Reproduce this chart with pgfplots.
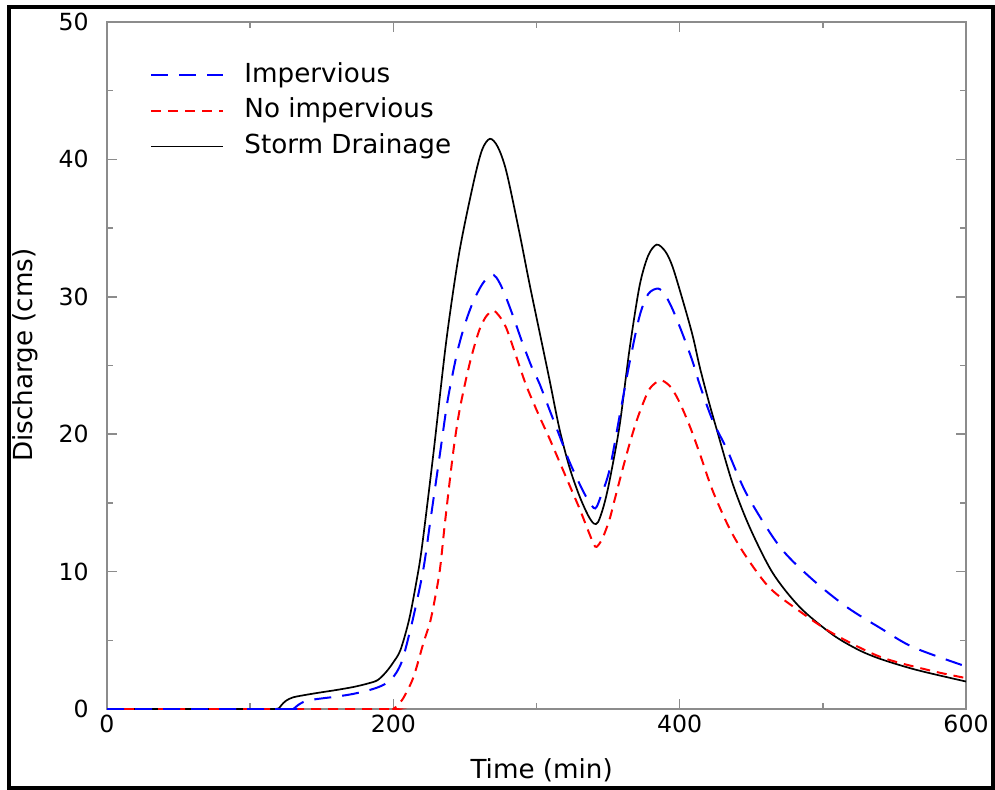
\documentclass[border=0pt]{standalone}
\usepackage{pgfplots}
\pgfplotsset{compat=1.18}
\usepackage{fontspec}
\setmainfont{DejaVu Sans}

\begin{document}
\begin{tikzpicture}
\begin{axis}[
    name=ax,
    scale only axis,
    width=429.5pt, height=343.5pt,
    xmin=0, xmax=600, ymin=0, ymax=50,
    xtick={0,200,400,600}, minor xtick={100,300,500},
    ytick={0,10,...,50}, minor ytick={5,15,...,45},
    tick align=inside,
    major tick length=5pt, minor tick length=3pt,
    axis line style={black!45, line width=0.8pt},
    every major tick/.append style={black!45, line width=0.8pt},
    every minor tick/.append style={black!45, line width=0.8pt},
    /pgf/number format/assume math mode=true,
    ticklabel style={font=\fontsize{11.8}{14}\selectfont},
    xticklabel style={inner sep=3pt},
    yticklabel style={inner sep=2pt, xshift=-7pt},
    xlabel={Time (min)},
    xlabel style={at={(rel axis cs:0.506,-0.0888)}, anchor=center, font=\fontsize{13.1}{15}\selectfont},
    ylabel={Discharge (cms)},
    ylabel style={at={(rel axis cs:-0.0955,0.515)}, anchor=center, font=\fontsize{13.1}{15}\selectfont},
    reverse legend,
    legend cell align=left,
    legend image code/.code={\draw[#1] (0pt,0pt) -- (36pt,0pt);},
    legend style={at={(rel axis cs:0,1)}, anchor=north west, xshift=21.5pt, yshift=-20pt,
        draw=none, fill=none, inner sep=0pt, row sep=4.75pt, column sep=10pt,
        font=\fontsize{13.1}{15}\selectfont,
        nodes={inner sep=0pt, text height=10pt, text depth=3pt}},
]
% storm drainage
\addplot[black, line width=0.85pt] coordinates {(0,0) (118,0)};
\addplot[black, line width=0.85pt, smooth, forget plot] coordinates {
(116,0) (118,0) (120,0.05) (122,0.3) (125,0.6) (130,0.85) (140,1.05) (150,1.22) (160,1.38) (172,1.6)
(182,1.85) (189,2.1) (195,2.7) (200,3.4) (205,4.3) (211,6.5) (216,9.2) (220,11.8)
(228,18.6) (237,26.8) (246,33.2) (256,38.3) (262,40.7) (267.5,41.5) (273,40.9)
(279,39.1) (288,34.7) (295,31) (302,27.5) (309,24) (316,20.4) (323,17.6) (330,15.5)
(336,14.1) (340,13.5) (343,13.6) (347,14.8) (351,16.6) (358,20.6) (365,26.2)
(372,30.8) (378,33) (384,33.8) (390,33.3) (395,32.2) (402,29.8) (409,27.2)
(414,24.9) (420,22.5) (426,20.3) (437,16.4) (449,13.2) (465,9.9) (484,7.4)
(507,5.4) (525,4.3) (540,3.65) (560,3.0) (575,2.6) (600,2.0)
};
\addlegendentry{Storm Drainage}
% no impervious
\addplot[red, line width=1pt, dash pattern=on 5pt off 3.5pt, smooth] coordinates {
(0,0) (100,0) (196,0) (200,0) (203,0.3) (207,0.8) (214,2.3) (221,4.8) (225.6,6.3) (229,8.0)
(232.6,10.2) (236,13.5) (241.7,18.6) (246,21.6) (251.4,24.3) (256,26.2) (260.5,27.7)
(265,28.6) (269.7,29.0) (274,28.6) (279,27.7) (286,25.6) (293,23.5) (302,21.3)
(309,19.7) (316,18.0) (323,16.3) (330,14.6) (336,13.0) (340,12.0) (342,11.8)
(346,12.4) (351,13.8) (355,15.4) (360,17.4) (365,19.3) (370,21.0) (375,22.4)
(379,23.3) (384,23.8) (388,23.9) (394,23.4) (400,22.3) (407,20.6) (414,18.6)
(423,15.9) (435,13.1) (447,11.0) (463,8.8) (484,7.1) (507,5.5) (540,3.8)
(575,2.8) (600,2.25)
};
\addlegendentry{No impervious}
% impervious
\addplot[blue, line width=1pt, dash pattern=on 8.5pt off 5.5pt, smooth] coordinates {
(0,0) (126,0) (130,0) (133,0.25) (137,0.5) (145,0.7) (160,0.9) (172,1.1) (184,1.4)
(192,1.7) (198,2.1) (203,2.8) (207,3.8) (214,6.7) (221,10.2) (226,13.8)
(232.6,18.6) (238,22.5) (244.5,25.9) (250,28.0) (255.6,29.6) (262,30.9) (268,31.6)
(272,31.4) (277,30.4) (283.6,28.6) (290,26.7) (297,24.8) (302,23.7) (309,21.8)
(316,19.9) (323,18.0) (330,16.4) (336,15.2) (341,14.6) (345,15.5) (351,17.4)
(358,21.3) (365,25.2) (372,28.6) (378,30.2) (385,30.6) (390,30.1) (395,29.1)
(402,27.3) (409,25.3) (414,23.6) (423,21.0) (433,18.9) (447,15.6) (470,11.8)
(493,9.4) (517,7.4) (540,5.9) (563,4.5) (600,3.1)
};
\addlegendentry{Impervious}
\end{axis}
\path ([xshift=-53.5pt,yshift=-40pt]ax.south west) rectangle ([xshift=14.5pt,yshift=11pt]ax.north east);
\draw[line width=1.6pt] ([xshift=-49pt,yshift=-39.5pt]ax.south west) rectangle ([xshift=13.5pt,yshift=7.5pt]ax.north east);
\end{tikzpicture}
\end{document}
